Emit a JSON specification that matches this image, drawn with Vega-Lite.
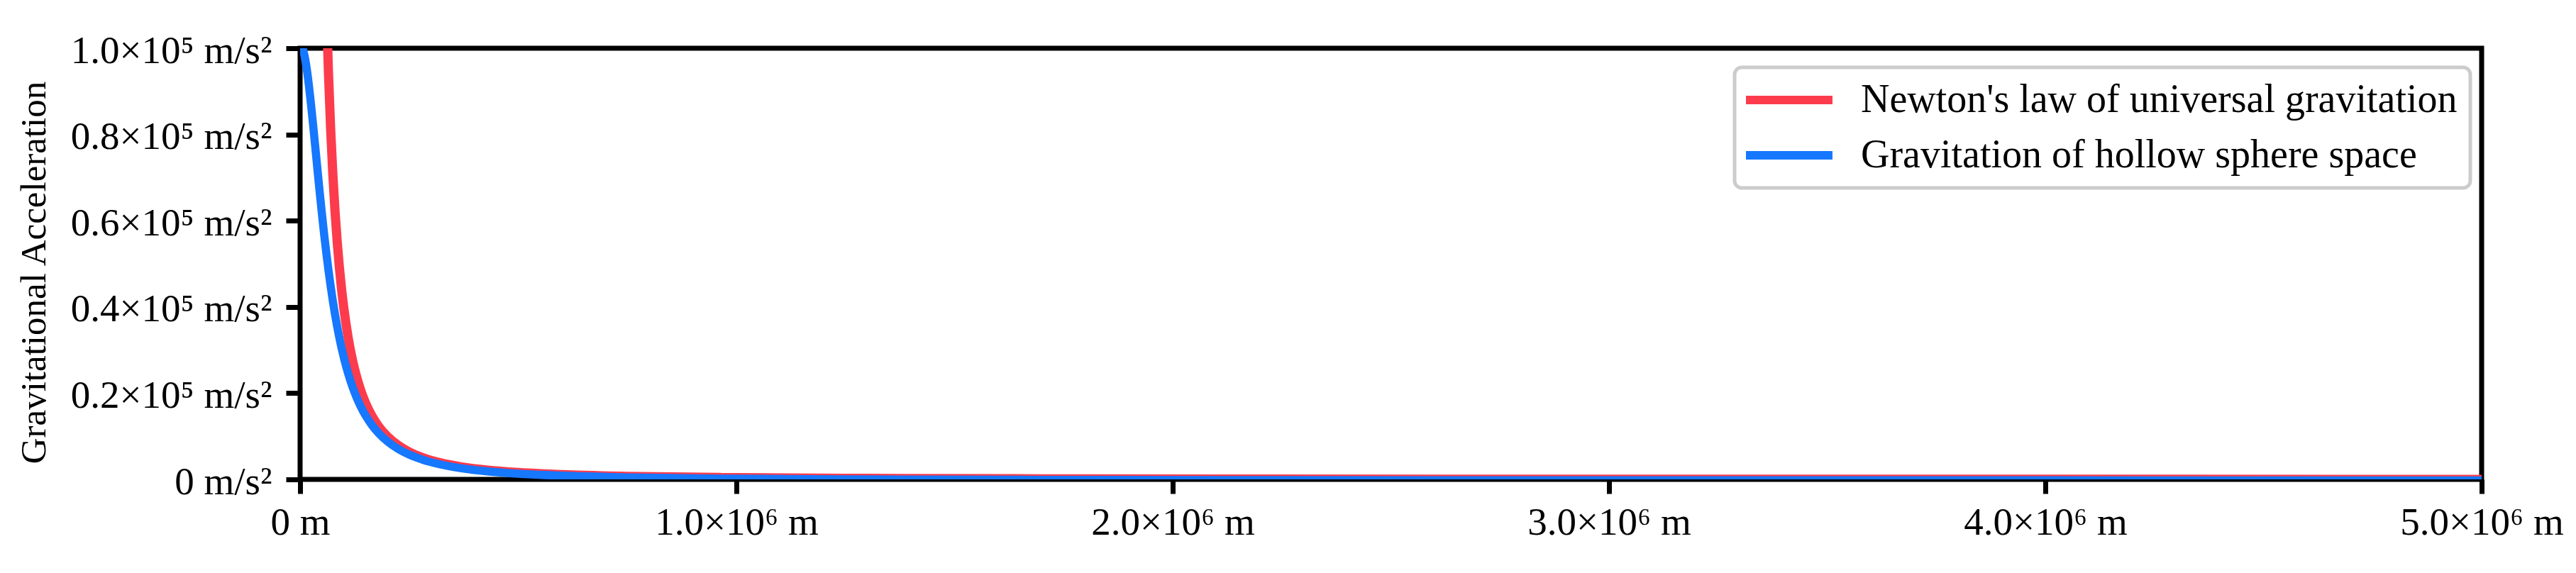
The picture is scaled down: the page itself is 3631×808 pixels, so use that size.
{
  "$schema": "https://vega.github.io/schema/vega-lite/v6.json",
  "autosize": {"type": "none"},
  "padding": {"left": 423, "top": 68, "right": 133, "bottom": 132},
  "width": 3075,
  "height": 608,
  "background": "white",
  "datasets": {
    "newton": [
      {"r": 55000, "g": 131769, "series": "Newton's law of universal gravitation"},
      {"r": 60000, "g": 110722, "series": "Newton's law of universal gravitation"},
      {"r": 65000, "g": 94343, "series": "Newton's law of universal gravitation"},
      {"r": 70000, "g": 81347, "series": "Newton's law of universal gravitation"},
      {"r": 75000, "g": 70862, "series": "Newton's law of universal gravitation"},
      {"r": 80000, "g": 62281, "series": "Newton's law of universal gravitation"},
      {"r": 85000, "g": 55170, "series": "Newton's law of universal gravitation"},
      {"r": 90000, "g": 49210, "series": "Newton's law of universal gravitation"},
      {"r": 95000, "g": 44166, "series": "Newton's law of universal gravitation"},
      {"r": 100000, "g": 39860, "series": "Newton's law of universal gravitation"},
      {"r": 110000, "g": 32942, "series": "Newton's law of universal gravitation"},
      {"r": 120000, "g": 27681, "series": "Newton's law of universal gravitation"},
      {"r": 130000, "g": 23586, "series": "Newton's law of universal gravitation"},
      {"r": 140000, "g": 20337, "series": "Newton's law of universal gravitation"},
      {"r": 150000, "g": 17716, "series": "Newton's law of universal gravitation"},
      {"r": 165000, "g": 14641, "series": "Newton's law of universal gravitation"},
      {"r": 180000, "g": 12302, "series": "Newton's law of universal gravitation"},
      {"r": 200000, "g": 9965, "series": "Newton's law of universal gravitation"},
      {"r": 225000, "g": 7874, "series": "Newton's law of universal gravitation"},
      {"r": 250000, "g": 6378, "series": "Newton's law of universal gravitation"},
      {"r": 280000, "g": 5084, "series": "Newton's law of universal gravitation"},
      {"r": 320000, "g": 3893, "series": "Newton's law of universal gravitation"},
      {"r": 370000, "g": 2912, "series": "Newton's law of universal gravitation"},
      {"r": 430000, "g": 2156, "series": "Newton's law of universal gravitation"},
      {"r": 500000, "g": 1594, "series": "Newton's law of universal gravitation"},
      {"r": 600000, "g": 1107, "series": "Newton's law of universal gravitation"},
      {"r": 750000, "g": 709, "series": "Newton's law of universal gravitation"},
      {"r": 1000000, "g": 399, "series": "Newton's law of universal gravitation"},
      {"r": 1300000, "g": 236, "series": "Newton's law of universal gravitation"},
      {"r": 1700000, "g": 138, "series": "Newton's law of universal gravitation"},
      {"r": 2200000, "g": 82, "series": "Newton's law of universal gravitation"},
      {"r": 3000000, "g": 44, "series": "Newton's law of universal gravitation"},
      {"r": 4000000, "g": 25, "series": "Newton's law of universal gravitation"},
      {"r": 5000000, "g": 16, "series": "Newton's law of universal gravitation"}
    ],
    "hollow": [
      {"r": 0, "g": 100815, "series": "Gravitation of hollow sphere space"},
      {"r": 5000, "g": 100178, "series": "Gravitation of hollow sphere space"},
      {"r": 10000, "g": 98316, "series": "Gravitation of hollow sphere space"},
      {"r": 15000, "g": 95360, "series": "Gravitation of hollow sphere space"},
      {"r": 20000, "g": 91509, "series": "Gravitation of hollow sphere space"},
      {"r": 25000, "g": 86990, "series": "Gravitation of hollow sphere space"},
      {"r": 30000, "g": 82037, "series": "Gravitation of hollow sphere space"},
      {"r": 35000, "g": 76864, "series": "Gravitation of hollow sphere space"},
      {"r": 40000, "g": 71648, "series": "Gravitation of hollow sphere space"},
      {"r": 45000, "g": 66528, "series": "Gravitation of hollow sphere space"},
      {"r": 50000, "g": 61606, "series": "Gravitation of hollow sphere space"},
      {"r": 55000, "g": 56946, "series": "Gravitation of hollow sphere space"},
      {"r": 60000, "g": 52587, "series": "Gravitation of hollow sphere space"},
      {"r": 65000, "g": 48544, "series": "Gravitation of hollow sphere space"},
      {"r": 70000, "g": 44820, "series": "Gravitation of hollow sphere space"},
      {"r": 75000, "g": 41405, "series": "Gravitation of hollow sphere space"},
      {"r": 80000, "g": 38284, "series": "Gravitation of hollow sphere space"},
      {"r": 90000, "g": 32845, "series": "Gravitation of hollow sphere space"},
      {"r": 100000, "g": 28336, "series": "Gravitation of hollow sphere space"},
      {"r": 110000, "g": 24594, "series": "Gravitation of hollow sphere space"},
      {"r": 120000, "g": 21479, "series": "Gravitation of hollow sphere space"},
      {"r": 130000, "g": 18873, "series": "Gravitation of hollow sphere space"},
      {"r": 140000, "g": 16680, "series": "Gravitation of hollow sphere space"},
      {"r": 150000, "g": 14823, "series": "Gravitation of hollow sphere space"},
      {"r": 165000, "g": 12538, "series": "Gravitation of hollow sphere space"},
      {"r": 180000, "g": 10717, "series": "Gravitation of hollow sphere space"},
      {"r": 200000, "g": 8821, "series": "Gravitation of hollow sphere space"},
      {"r": 225000, "g": 7055, "series": "Gravitation of hollow sphere space"},
      {"r": 250000, "g": 5749, "series": "Gravitation of hollow sphere space"},
      {"r": 280000, "g": 4591, "series": "Gravitation of hollow sphere space"},
      {"r": 320000, "g": 3498, "series": "Gravitation of hollow sphere space"},
      {"r": 370000, "g": 2580, "series": "Gravitation of hollow sphere space"},
      {"r": 430000, "g": 1861, "series": "Gravitation of hollow sphere space"},
      {"r": 500000, "g": 1320, "series": "Gravitation of hollow sphere space"},
      {"r": 600000, "g": 845, "series": "Gravitation of hollow sphere space"},
      {"r": 750000, "g": 454, "series": "Gravitation of hollow sphere space"},
      {"r": 1000000, "g": 148, "series": "Gravitation of hollow sphere space"},
      {"r": 1300000, "g": -14, "series": "Gravitation of hollow sphere space"},
      {"r": 1700000, "g": -112, "series": "Gravitation of hollow sphere space"},
      {"r": 2200000, "g": -168, "series": "Gravitation of hollow sphere space"},
      {"r": 3000000, "g": -206, "series": "Gravitation of hollow sphere space"},
      {"r": 4000000, "g": -225, "series": "Gravitation of hollow sphere space"},
      {"r": 5000000, "g": -234, "series": "Gravitation of hollow sphere space"}
    ]
  },
  "encoding": {
    "x": {
      "field": "r",
      "type": "quantitative",
      "scale": {"domain": [0, 5000000], "nice": false, "zero": false},
      "axis": {
        "title": null,
        "values": [0, 1000000, 2000000, 3000000, 4000000, 5000000],
        "labelExpr": "datum.value == 0 ? '0 m' : format(datum.value / 1000000, '.1f') + '×10⁶ m'",
        "labelPadding": 14
      }
    },
    "y": {
      "field": "g",
      "type": "quantitative",
      "scale": {"domain": [0, 100000], "nice": false, "zero": false},
      "axis": {
        "title": "Gravitational Acceleration",
        "values": [0, 20000, 40000, 60000, 80000, 100000],
        "labelExpr": "datum.value == 0 ? '0 m/s²' : format(datum.value / 100000, '.1f') + '×10⁵ m/s²'",
        "labelPadding": 20,
        "labelOffset": 3,
        "titleX": -360,
        "titleY": 316,
        "titleBaseline": "alphabetic",
        "titleAngle": -90,
        "titleAlign": "center"
      }
    },
    "color": {
      "field": "series",
      "type": "nominal",
      "scale": {
        "domain": ["Newton's law of universal gravitation", "Gravitation of hollow sphere space"],
        "range": ["#fc3c4c", "#1677ff"]
      },
      "legend": {
        "title": null,
        "orient": "none",
        "legendX": 2022,
        "legendY": 27,
        "symbolType": "M-6,0L6,0",
        "symbolSize": 413,
        "symbolStrokeWidth": 12,
        "symbolOffset": 31,
        "labelOffset": 73,
        "rowPadding": 22,
        "padding": 18,
        "labelLimit": 3000,
        "labelFontSize": 56,
        "labelFont": "Liberation Serif",
        "labelColor": "black",
        "fillColor": "white",
        "strokeColor": "#cccccc",
        "cornerRadius": 10
      }
    }
  },
  "layer": [
    {
      "data": {"name": "newton"},
      "mark": {"type": "line", "strokeWidth": 13, "clip": true, "interpolate": "monotone"}
    },
    {
      "data": {"name": "hollow"},
      "mark": {"type": "line", "strokeWidth": 11.5, "clip": true, "interpolate": "monotone"}
    }
  ],
  "config": {
    "view": {"stroke": "black", "strokeWidth": 7},
    "axis": {
      "domain": false,
      "grid": false,
      "ticks": true,
      "tickColor": "black",
      "tickWidth": 7,
      "tickSize": 20,
      "labelFont": "Liberation Serif",
      "labelFontSize": 55,
      "labelColor": "black",
      "labelLimit": 2000,
      "labelFlush": false,
      "labelOverlap": false,
      "labelBound": false,
      "titleFont": "Liberation Serif",
      "titleFontSize": 51,
      "titleFontWeight": "normal",
      "titleColor": "black"
    },
    "legend": {"strokeWidth": 5}
  }
}
